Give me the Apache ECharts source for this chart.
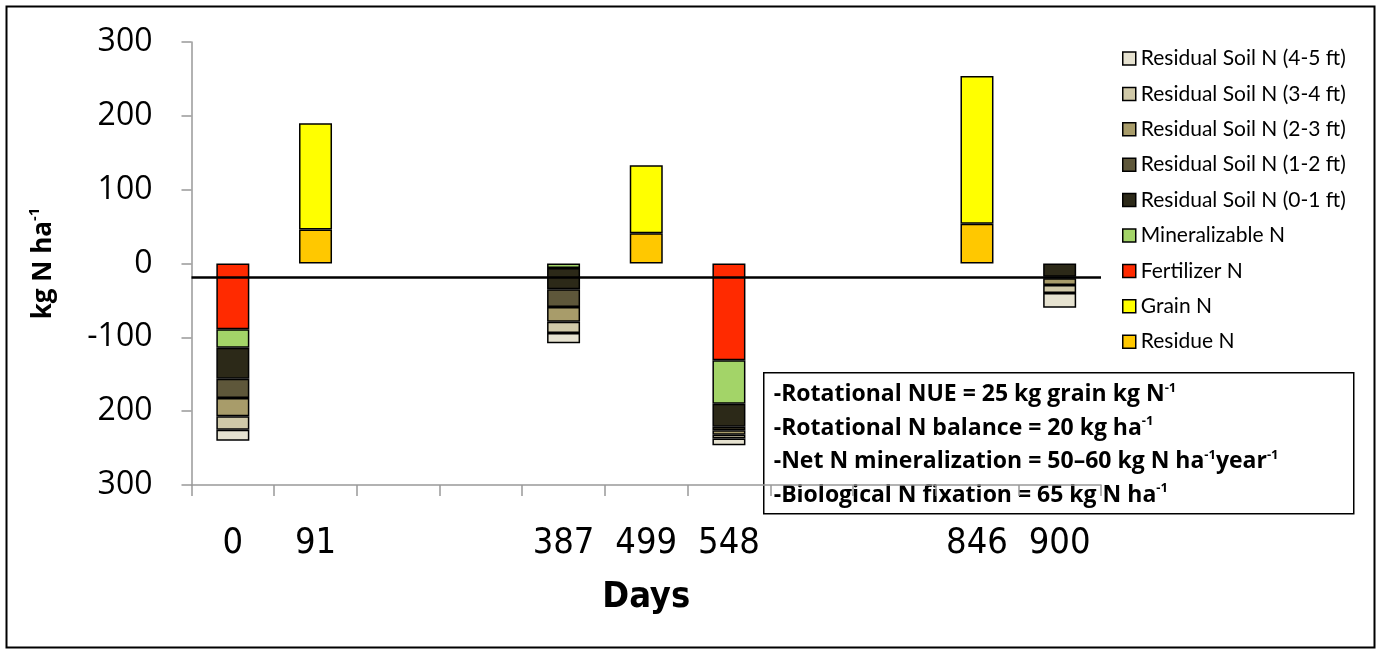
<!DOCTYPE html>
<html><head><meta charset="utf-8">
<script src="https://cdn.jsdelivr.net/npm/echarts@6/dist/echarts.min.js"></script>
<style>html,body{margin:0;padding:0;background:#fff}#c{width:1377px;height:650px}</style>
</head><body><div id="c"></div>
<script>
// ---- data ----
const days = ['0', '91', '', '', '387', '499', '548', '', '', '846', '900'];
const residueN       = [null, 46, null, null, null, 41, null, null, null, 54, null];
const grainN         = [null, 144, null, null, null, 92, null, null, null, 200, null];
const fertilizerN    = [-89, null, null, null, null, null, -131, null, null, null, null];
const mineralizableN = [-25, null, null, null, -6, null, -59, null, null, null, null];
const soil0to1 = [-42, null, null, null, -29, null, -31, null, null, null, -18];
const soil1to2 = [-26, null, null, null, -24, null, -5, null, null, null, -2];
const soil2to3 = [-25, null, null, null, -20, null, -6, null, null, null, -9];
const soil3to4 = [-18, null, null, null, -15, null, -5, null, null, null, -11];
const soil4to5 = [-15, null, null, null, -14, null, -9, null, null, null, -20];
const yTickValues = [300, 200, 100, 0, -100, -200, -300];
const yTickLabels = ['300', '200', '100', '0', '-100', '200', '300'];
const nBalanceLevel = -18;
const legendOrder = ['Residual Soil N (4-5 ft)', 'Residual Soil N (3-4 ft)', 'Residual Soil N (2-3 ft)',
  'Residual Soil N (1-2 ft)', 'Residual Soil N (0-1 ft)', 'Mineralizable N', 'Fertilizer N', 'Grain N', 'Residue N'];

const seriesDefs = [
  ['Residue N', residueN, '#FFC800'],
  ['Grain N', grainN, '#FFFF00'],
  ['Fertilizer N', fertilizerN, '#FF2A00'],
  ['Mineralizable N', mineralizableN, '#A3D468'],
  ['Residual Soil N (0-1 ft)', soil0to1, '#2C2918'],
  ['Residual Soil N (1-2 ft)', soil1to2, '#5E573A'],
  ['Residual Soil N (2-3 ft)', soil2to3, '#A89C6A'],
  ['Residual Soil N (3-4 ft)', soil3to4, '#D0C9A8'],
  ['Residual Soil N (4-5 ft)', soil4to5, '#E6E2D0']
];

const series = seriesDefs.map(([name, data, color], i) => {
  const s = {
    name, type: 'bar', stack: 'n', data, barWidth: 33,
    itemStyle: { color, borderColor: '#000', borderWidth: 1.5 },
    emphasis: { disabled: true }
  };
  if (i === 0) {
    s.markLine = {
      silent: true, symbol: 'none', animation: false,
      lineStyle: { color: '#000', width: 2.5, type: 'solid' },
      label: { show: false },
      data: [{ yAxis: nBalanceLevel }]
    };
  }
  return s;
});

const chart = echarts.init(document.getElementById('c'), null, { renderer: 'canvas' });
const boxFont = '"Open Sans", sans-serif';
const narrowFont = '"DejaVu Sans Condensed", "Liberation Sans Narrow", Roboto, sans-serif';
const rich = {
  b: { fontFamily: boxFont, fontWeight: 'bold', fontSize: 23, lineHeight: 26, color: '#000' },
  s: { fontFamily: boxFont, fontWeight: 'bold', fontSize: 13, lineHeight: 13, verticalAlign: 'top', color: '#000' }
};
const boxLines = [
  '{b|-Rotational NUE = 25 kg grain kg N}{s|-1}',
  '{b|-Rotational N balance = 20 kg ha}{s|-1}',
  '{b|-Net N mineralization = 50–60 kg N ha}{s|-1}{b|year}{s|-1}',
  '{b|-Biological N fixation = 65 kg N ha}{s|-1}'
];

chart.setOption({
  animation: false,
  backgroundColor: '#fff',
  grid: { left: 191.5, right: 276, top: 42, bottom: 165 },
  legend: {
    orient: 'vertical', left: 1122, top: 48, padding: 0,
    data: legendOrder, itemWidth: 13, itemHeight: 13, itemGap: 14.4,
    icon: 'rect', selectedMode: false,
    itemStyle: { borderColor: '#000', borderWidth: 1.5 },
    textStyle: { fontFamily: 'Lato, "Open Sans", sans-serif', fontSize: 21, color: '#000' }
  },
  xAxis: {
    type: 'category', data: days, position: 'bottom',
    axisLine: { onZero: false, lineStyle: { color: '#999', width: 1.5 } },
    axisTick: { show: true, length: 11, inside: false, lineStyle: { color: '#999', width: 1.5 } },
    axisLabel: { interval: 0, margin: 41, fontFamily: narrowFont, fontSize: 36, color: '#000' },
    name: 'Days', nameLocation: 'middle', nameGap: 95,
    nameTextStyle: { fontFamily: narrowFont, fontWeight: 'bold', fontSize: 36, color: '#000' }
  },
  yAxis: {
    type: 'value', min: -300, max: 300, interval: 100,
    splitLine: { show: false },
    axisLine: { show: true, lineStyle: { color: '#999', width: 1.5 } },
    axisTick: { show: true, length: 10, lineStyle: { color: '#999', width: 1.5 } },
    axisLabel: {
      margin: 39, fontFamily: '"Open Sans", sans-serif', fontSize: 32, color: '#000',
      formatter: v => yTickLabels[yTickValues.indexOf(v)]
    },
    name: '{a|kg N ha}{b|-1}', nameLocation: 'middle', nameRotate: 90, nameGap: 132,
    nameTextStyle: {
      rich: {
        a: { fontFamily: '"Open Sans", sans-serif', fontWeight: 'bold', fontSize: 26, lineHeight: 32, color: '#000' },
        b: { fontFamily: '"Open Sans", sans-serif', fontWeight: 'bold', fontSize: 15, lineHeight: 15, verticalAlign: 'top', color: '#000' }
      }
    }
  },
  series,
  graphic: [
    { type: 'rect', left: 4, top: 4, z: 100, silent: true,
      shape: { width: 1368, height: 641 }, style: { fill: 'none', stroke: '#000', lineWidth: 2 } },
    { type: 'group', left: 763, top: 372, z: 100, silent: true, children: [
      { type: 'rect', shape: { x: 0, y: 0, width: 590, height: 141 },
        style: { fill: '#fff', stroke: '#000', lineWidth: 1.5 } },
      ...boxLines.map((t, i) => ({ type: 'text', x: 10, y: 9 + i * 33.5, style: { text: t, rich } }))
    ]}
  ]
});
</script>
</body></html>
